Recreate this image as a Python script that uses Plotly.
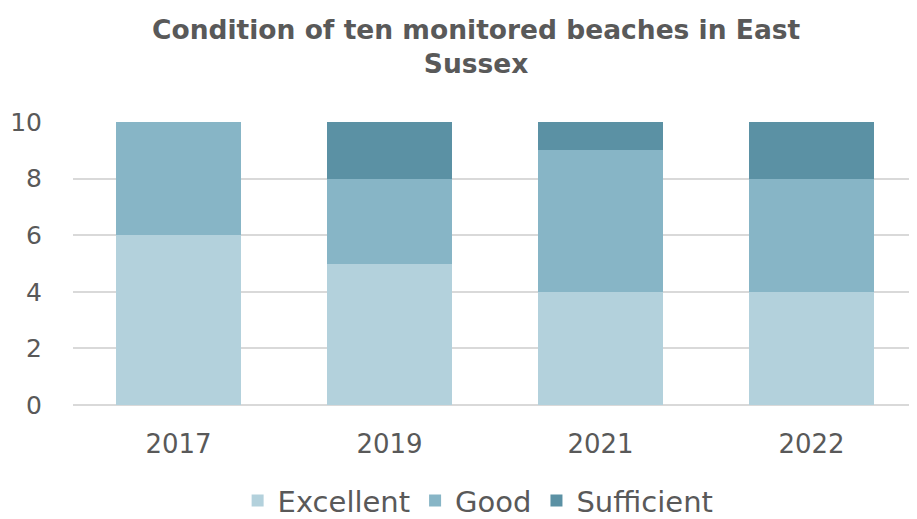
import plotly.graph_objects as go

years = ["2017", "2019", "2021", "2022"]
excellent = [6, 5, 4, 4]
good = [4, 3, 5, 4]
sufficient = [0, 2, 1, 2]
yticks = [0, 2, 4, 6, 8, 10]

colors = {"Excellent": "#B3D1DC", "Good": "#87B5C6", "Sufficient": "#5B91A4"}
font_fam = "DejaVu Sans"

fig = go.Figure()
for name, vals in [("Excellent", excellent), ("Good", good), ("Sufficient", sufficient)]:
    fig.add_trace(go.Bar(x=years, y=vals, name=name, marker=dict(color=colors[name], line=dict(width=0))))

fig.update_layout(
    barmode="stack",
    bargap=0.41,
    width=909, height=511,
    paper_bgcolor="white", plot_bgcolor="white",
    margin=dict(l=65, r=0, t=114, b=114, autoexpand=False),
    title=dict(text="<b>Condition of ten monitored beaches in East<br>Sussex</b>",
               x=0.515, xanchor="center", yref="container", y=0.94, yanchor="top",
               font=dict(family=font_fam, size=26.5, color="#595959")),
    font=dict(family=font_fam, color="#595959", size=26),
    xaxis=dict(showgrid=False, showline=False, ticks="", tickfont=dict(size=26, color="#595959"),
               ticklabelstandoff=21, automargin=False),
    yaxis=dict(range=[0, 10], tickvals=yticks, showgrid=True, gridcolor="#D9D9D9", gridwidth=2,
               zeroline=True, zerolinecolor="#D9D9D9", zerolinewidth=2,
               tickfont=dict(size=25, color="#595959"), ticklabelstandoff=30, automargin=False),
    legend=dict(orientation="h", x=0.48, xanchor="center", yref="container", y=0.036, yanchor="middle",
                font=dict(size=29, color="#595959"), traceorder="normal", itemwidth=30),
    showlegend=True,
)
fig.write_html("out.html")
